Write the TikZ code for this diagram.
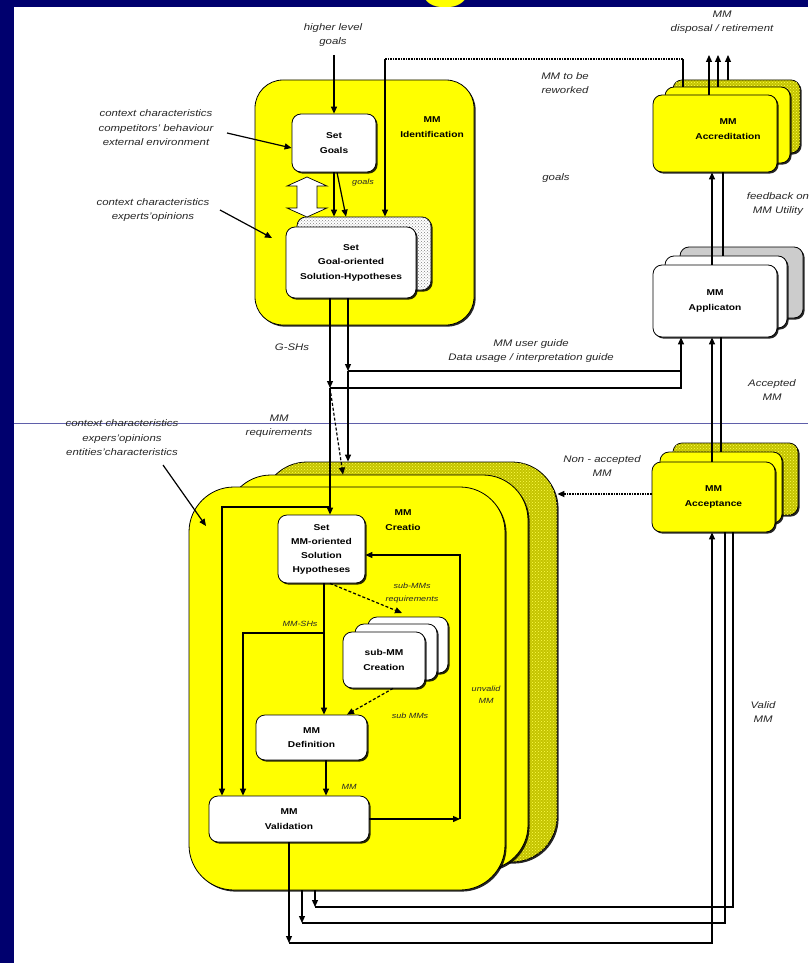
\documentclass[tikz,border=0pt]{standalone}
\usepackage{fontspec}
\setmainfont{Liberation Sans}[FakeStretch=1.2]
\newfontfamily\titlefont{Liberation Sans}
\usetikzlibrary{arrows.meta,calc,patterns,shadows}

\definecolor{slidebg}{RGB}{0,0,110}
\definecolor{mmyellow}{RGB}{255,255,0}
\definecolor{mmolive}{RGB}{196,196,0}
\definecolor{guide}{RGB}{95,95,170}

\begin{document}
\begin{tikzpicture}[x=1pt,y=-1pt,>={Triangle[length=7pt,width=6pt]},
  shd/.style={drop shadow={shadow xshift=1.6pt,shadow yshift=-1.6pt,fill=black,opacity=.85}},
  wb/.style={draw,line width=.8pt,rounded corners=9pt,fill=white,shd,align=center,inner sep=0pt,
    font={\fontsize{8.5}{14.5}\selectfont\bfseries}},
  yb/.style={wb,fill=mmyellow},
  ob/.style={wb,fill=mmolive,postaction={pattern=crosshatch dots,pattern color=mmyellow!70}},
  gb/.style={wb,fill=white,postaction={pattern=crosshatch dots,pattern color=gray}},
  sz/.style 2 args={minimum width=#1,minimum height=#2},
  tt/.style={align=center,inner sep=1pt,font={\fontsize{8.5}{14.5}\selectfont\bfseries}},
  lab/.style={align=center,inner sep=1pt,text=black!85,font={\fontsize{9.5}{14.5}\selectfont\itshape}},
  slab/.style={lab,font={\fontsize{7.5}{12.5}\selectfont\itshape}},
  ln/.style={line width=1.2pt},
  dl/.style={line width=1.6pt,densely dotted}]

% slide frame and the cut title
\useasboundingbox (0,0) rectangle (808,963);
\fill[slidebg] (0,0) rectangle (808,963);
\begin{scope}
  \clip (0,0) rectangle (808,963);
  \node[text=mmyellow,anchor=base,inner sep=0pt,font={\titlefont\fontsize{96}{96}\selectfont\bfseries}] (ttl) at (447,-12) {g};
\end{scope}
\fill[white] (14,7) rectangle (808,963);
\draw[guide,line width=.6pt] (14,423) -- (808,423);

% identification
\node[yb,rounded corners=28pt,sz={219pt}{245pt}] (ident) at (364.5,202.5) {};
\node[tt] (identt) at (432,127) {MM\\Identification};
\node[wb,sz={84pt}{58pt}] (goals) at (334,143) {Set\\Goals};
\node[gb,sz={134pt}{73pt}] (gsh2) at (364,253.5) {};
\node[wb,sz={130pt}{71pt}] (gsh) at (351,262.5) {Set\\Goal-oriented\\Solution-Hypotheses};
\draw[fill=white,line width=.7pt] (307,177) -- (327,186) -- (317,186) -- (317,208) -- (327,208)
  -- (307,217) -- (287,208) -- (297,208) -- (297,186) -- (287,186) -- cycle;

% accreditation, application, acceptance
\node[ob,sz={127pt}{73pt}] (acc3) at (736.5,116.5) {};
\node[yb,sz={125pt}{76pt}] (acc2) at (727.5,125) {};
\node[yb,sz={124pt}{77pt}] (acc) at (715,133.5) {};
\node[tt] (acct) at (728,129) {MM\\Accreditation};
\node[wb,fill=gray!40,sz={123pt}{71pt}] (app3) at (741.5,282.5) {};
\node[wb,sz={122pt}{72pt}] (app2) at (726,292) {};
\node[wb,sz={124pt}{72pt}] (app) at (715,301) {MM\\Applicaton};
\node[ob,sz={125pt}{72pt}] (acp3) at (735.5,479) {};
\node[yb,sz={122pt}{71pt}] (acp2) at (721,487.5) {};
\node[yb,sz={123pt}{70pt}] (acp) at (713.5,497) {MM\\Acceptance};

% creation
\node[ob,rounded corners=45pt,sz={295pt}{400pt}] (cr3) at (409.5,662) {};
\node[yb,rounded corners=45pt,sz={302pt}{395pt}] (cr2) at (377,672.5) {};
\node[yb,rounded corners=45pt,sz={316pt}{403pt}] (cr) at (347,688.5) {};
\node[tt] (crt) at (403,520) {MM\\Creatio};
\node[wb,sz={87pt}{68pt},font={\fontsize{8.5}{14}\selectfont\bfseries}] (setmm) at (321.5,549) {Set\\MM-oriented\\Solution\\Hypotheses};
\node[wb,sz={80pt}{56pt}] (sub3) at (408,645) {};
\node[wb,sz={82pt}{56pt}] (sub2) at (396,652) {};
\node[wb,sz={82pt}{56pt}] (sub) at (384,660) {sub-MM\\Creation};
\node[wb,sz={111pt}{45pt}] (def) at (311.5,737.5) {MM\\Definition};
\node[wb,sz={160pt}{46pt}] (val) at (289,819) {MM\\Validation};

% free ends and bends
\coordinate (hlg) at (334,55);
\coordinate (c1) at (227,133);
\coordinate (c2a) at (220,210);
\coordinate (c2b) at (272,238);
\coordinate (g2) at (346,217);
\coordinate (rw1) at (683,59);
\coordinate (rw2) at (385,59);
\coordinate (d1) at (709,55);
\coordinate (d2) at (718,55);
\coordinate (d3) at (728,55);
\coordinate (fb) at (712,200);
\coordinate (fb2) at (723,200);
\coordinate (j1) at (330,388);
\coordinate (j2) at (348,371);
\coordinate (ug) at (681,388);
\coordinate (av) at (712,400);
\coordinate (av2) at (721,400);
\coordinate (mreq) at (343,475);
\coordinate (c3a) at (163,465);
\coordinate (c3b) at (206,526);
\coordinate (k1) at (330,507);
\coordinate (k2) at (324,633);
\coordinate (k3) at (326,787);
\coordinate (v1) at (222,600);
\coordinate (v2) at (243,600);
\coordinate (s2) at (402,613);
\coordinate (s3) at (347,712);
\coordinate (uv) at (460,819);
\coordinate (b1) at (289,943);
\coordinate (b2) at (302,923);
\coordinate (b3) at (315,907);
\coordinate (e1) at (712,700);
\coordinate (e2) at (725,700);
\coordinate (e3) at (733,700);

% connectors, top part
\draw[ln,->] (hlg) -- (goals);
\draw[ln,->] (c1) -- ([yshift=-5pt]goals.west);
\draw[ln,->] (c2a) -- (c2b);
\draw[ln,->] (goals.south) -- (goals.south |- gsh2.north);
\draw[ln,->] ([xshift=3pt]goals.south) -- (g2 |- gsh2.north);
\draw[ln] (rw1 |- acc2.north) -- (rw1);
\draw[dl] (rw1) -- (rw2);
\draw[ln,->] (rw2) -- (rw2 |- gsh2.north);
\draw[ln,->] (d1 |- acc.north) -- (d1);
\draw[ln,->] (d2 |- acc2.north) -- (d2);
\draw[ln,->] (d3 |- acc3.north) -- (d3);
\draw[ln,->] (fb |- app.north) -- (fb |- acc.south);
\draw[ln] (fb2 |- acc.south) -- (fb2 |- app2.north);
\draw[ln,->] (j1 |- gsh.south) -- (j1);
\draw[ln,->] (j2 |- gsh.south) -- (j2);
\draw[ln] (j2) -- (j2 -| ug);
\draw[ln,->] (j1) -| (ug |- app.south);
\draw[ln,->] (av |- acp.north) -- (av |- app.south);
\draw[ln] (av2 |- acp2.north) -- (av2 |- app.south);
\draw[ln,->] (j1) -- (j1 |- setmm.north);
\draw[ln,->] (j2) -- (j2 |- cr3.north);
\draw[ln,densely dashed,->] (j1) -- (mreq |- cr2.north);
\draw[ln,->] (c3a) -- (c3b);

% connectors inside creation
\draw[ln,->] (k1) -| (v1 |- val.north);
\draw[ln,->] (setmm.south -| k2) -- (k2 |- def.north);
\draw[ln,->] (k2) -| (v2 |- val.north);
\draw[ln,densely dashed,->] ([xshift=8.5pt]setmm.south) -- (s2);
\draw[ln,densely dashed,->] ([xshift=9pt]sub.south) -- (s3 |- def.north);
\draw[ln,->] (def.south -| k3) -- (val.north -| k3);
\draw[ln,->] (val.east) -- (uv);
\draw[ln,->] (uv) |- ([yshift=-6pt]setmm.east);

% return lines to acceptance
\draw[ln,->] (val.south) -- (b1);
\draw[ln,->] (b1) -| (e1 |- acp.south);
\draw[ln,->] (b2 |- cr.south) -- (b2);
\draw[ln] (b2) -| (e2 |- acp.south);
\draw[ln,->] (b3 |- cr.south) -- (b3);
\draw[ln] (b3) -| (e3 |- acp.south);
\draw[dl,->] ([yshift=3pt]acp.west) -- ([yshift=3pt]acp.west -| cr3.east);

% labels
\node[lab] (hl) at (333,35) {higher level\\goals};
\node[lab] (ctx1) at (156,128) {context characteristics\\competitors' behaviour\\external environment};
\node[lab] (ctx2) at (153,210) {context characteristics\\experts'opinions};
\node[slab] (gl1) at (363,183) {goals};
\node[lab] (rwk) at (565,83) {MM to be\\reworked};
\node[lab] (gl2) at (556,178) {goals};
\node[lab] (dsp) at (722,22) {MM\\disposal / retirement};
\node[lab] (fbk) at (778,204) {feedback on\\MM Utility};
\node[lab] (gsl) at (292,347) {G-SHs};
\node[lab] (ugd) at (531,351) {MM user guide\\Data usage / interpretation guide};
\node[lab] (acl) at (772,390) {Accepted\\MM};
\node[lab] (mrq) at (279,426) {MM\\requirements};
\node[lab] (ctx3) at (122,438) {context characteristics\\expers'opinions\\entities'characteristics};
\node[lab] (nac) at (602,466) {Non - accepted\\MM};
\node[lab] (vld) at (763,712) {Valid\\MM};
\node[slab] (srq) at (412,593) {sub-MMs\\requirements};
\node[slab] (msh) at (300,624) {MM-SHs};
\node[slab] (smm) at (410,716) {sub MMs};
\node[slab] (mml) at (349,787) {MM};
\node[slab] (uvl) at (486,695) {unvalid\\MM};
\end{tikzpicture}
\end{document}
